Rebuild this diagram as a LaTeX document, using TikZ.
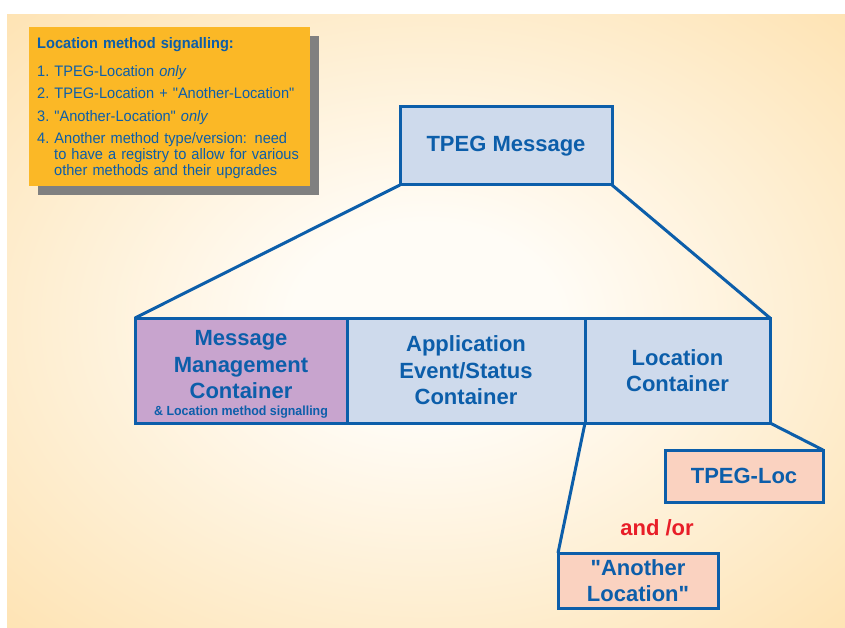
\documentclass[tikz,border=0pt]{standalone}
\usepackage{fontspec}
\setmainfont{Liberation Sans}[Ligatures=TeXOff]
\newfontfamily\notefont{Liberation Sans}[FakeStretch=0.96,Ligatures=TeXOff]
\newfontfamily\narrowfont{Liberation Sans}[FakeStretch=0.94,Ligatures=TeXOff]
\usetikzlibrary{positioning,shadows}

\definecolor{tpegblue}{RGB}{12,94,170}
\definecolor{boxblue}{RGB}{206,218,236}
\definecolor{mgmtpurple}{RGB}{200,164,206}
\definecolor{locpink}{RGB}{250,210,192}
\definecolor{noteyellow}{RGB}{251,184,38}
\definecolor{shadowgray}{RGB}{128,128,128}
\definecolor{andred}{RGB}{232,30,40}
\definecolor{glowin}{RGB}{255,252,246}
\definecolor{glowout}{RGB}{253,216,150}

\pgfdeclareradialshading{bgglow}{\pgfpoint{0bp}{0bp}}{%
  color(0bp)=(glowin); color(8bp)=(glowin); color(48bp)=(glowout); color(50bp)=(glowout)}

\begin{document}
\begin{tikzpicture}[x=1pt,y=-1pt,
  part/.style={draw=tpegblue,line width=3pt,fill=boxblue,text=tpegblue,outer sep=0pt,
    font=\bfseries\fontsize{22}{26.5}\selectfont,align=center,inner sep=0pt},
  leaf/.style={part,fill=locpink},
  link/.style={draw=tpegblue,line width=3pt}]
  \useasboundingbox (0,0) rectangle (845,628);
  \fill[white] (0,0) rectangle (845,628);
  \shade[shading=bgglow] (7,15) rectangle (845,628);

  % note on signalling
  \node[anchor=north west,fill=noteyellow,minimum width=281pt,minimum height=159pt,
        drop shadow={shadow xshift=9pt,shadow yshift=-9pt,fill=shadowgray,opacity=1}]
    (note) at (29,27) {};
  \node[anchor=north west,text=tpegblue,inner sep=0pt,text width=265pt,align=left,
        font=\notefont\fontsize{15.2}{16}\selectfont] (notetext) at (37,37)
    {\textbf{Location method signalling:}\\[12pt]
     1.~TPEG-Location \textit{only}\\[6.5pt]
     2.~TPEG-Location + "Another-Location"\\[6.5pt]
     3.~"Another-Location" \textit{only}\\[6.5pt]
     4.~Another method type/version: need\\
     \hspace*{17pt}to have a registry to allow for various\\
     \hspace*{17pt}other methods and their upgrades};

  % message and its containers
  \node[part,minimum width=212pt,minimum height=78pt] (msg) at (506,146) {TPEG Message};

  \node[part,fill=mgmtpurple,minimum width=212pt,minimum height=105pt] (mmc) at (241,370.5)
    {\rule{0pt}{23pt}Message\\Management\\Container\\[-10pt]%
     {\narrowfont\fontsize{13.2}{14}\selectfont\& Location method signalling}};
  \node[part,minimum width=238pt,minimum height=105pt,right=0pt of mmc] (aesc)
    {Application\\Event/Status\\Container};
  \node[part,minimum width=185pt,minimum height=105pt,right=0pt of aesc] (locc)
    {Location\\Container};

  \node[leaf,minimum width=158pt,minimum height=52pt] (tloc) at (744,476) {TPEG-Loc};
  \node[leaf,minimum width=160pt,minimum height=55pt] (aloc) at (638,580.5)
    {"Another\\Location"};

  \node[text=andred,font=\bfseries\fontsize{22}{26}\selectfont] (andor) at (657,528) {and /or};

  \draw[link] (msg.south west) -- (mmc.north west);
  \draw[link] (msg.south east) -- (locc.north east);
  \draw[link] (locc.south west) -- (aloc.north west);
  \draw[link] (locc.south east) -- (tloc.north east);
\end{tikzpicture}
\end{document}
